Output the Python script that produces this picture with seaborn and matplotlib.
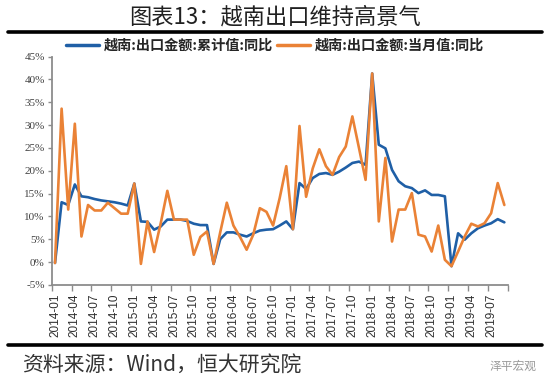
import pandas as pd
import numpy as np
import matplotlib.pyplot as plt
import seaborn as sns
from matplotlib.lines import Line2D

# --- データ (%) ---
months = pd.date_range('2014-01-01', periods=69, freq='MS').strftime('%Y-%m').tolist()

# 越南:出口金额:累计值:同比
cum_yoy = [-0.2, 13.1, 12.5, 17.0, 14.4, 14.2, 13.8, 13.5, 13.3, 13.1, 12.8, 12.4,
           17.2, 8.9, 8.8, 7.1, 7.8, 9.3, 9.3, 9.3, 9.0, 8.4, 8.1, 8.1,
           -0.4, 5.0, 6.5, 6.5, 6.0, 5.6, 6.3, 6.9, 7.1, 7.2, 8.0, 8.9,
           7.2, 17.3, 16.0, 18.4, 19.3, 19.5, 19.1, 19.8, 20.7, 21.7, 22.0, 21.3,
           41.3, 25.7, 24.9, 20.2, 17.7, 16.6, 16.2, 15.1, 15.7, 14.7, 14.7, 14.4,
           -0.9, 6.3, 4.9, 6.3, 7.4, 8.0, 8.5, 9.4, 8.7]

# 越南:出口金额:当月值:同比
mon_yoy = [-0.2, 33.6, 11.5, 30.3, 5.6, 12.5, 11.3, 11.3, 13.0, 11.8, 10.6, 10.6,
           17.2, -0.4, 8.9, 2.2, 8.5, 15.6, 9.3, 9.3, 9.3, 1.6, 5.5, 6.7,
           -0.4, 6.5, 13.0, 8.0, 5.5, 2.7, 6.0, 11.8, 11.0, 8.0, 14.0, 21.0,
           7.2, 29.8, 14.3, 20.5, 24.7, 21.0, 19.1, 23.0, 25.3, 31.9, 25.0, 18.0,
           41.3, 8.9, 22.8, 4.5, 11.5, 11.5, 15.1, 6.0, 5.6, 2.3, 8.0, 0.5,
           -0.9, 2.3, 5.6, 8.4, 7.8, 8.5, 10.7, 17.3, 12.5]

label_cum = '越南:出口金额:累计值:同比'
label_mon = '越南:出口金额:当月值:同比'
blue = '#1f5fa6'
orange = '#ea8236'

y_ticks = list(range(-5, 50, 5))

sns.set_theme(style='white')
plt.rcParams['font.family'] = ['Noto Sans CJK SC', 'DejaVu Sans']

n = len(months)
df = pd.DataFrame({
    'pos': np.tile(np.arange(n), 2),
    'value': cum_yoy + mon_yoy,
    'series': [label_cum] * n + [label_mon] * n,
})

fig = plt.figure(figsize=(5.5, 3.85), dpi=100)
ax = fig.add_axes([0.094, 0.26, 0.829, 0.593])

sns.lineplot(data=df, x='pos', y='value', hue='series', palette=[blue, orange],
             sort=False, linewidth=1.9, ax=ax, legend=False)
for ln in ax.get_lines():
    ln.set_solid_joinstyle('round')
    ln.set_solid_capstyle('round')

# 軸
ax.set_xlim(-0.5, n - 0.5)
ax.set_ylim(-5, 45)
ax.set_xlabel('')
ax.set_ylabel('')
ax.set_xticks(range(0, n - 2, 3))
ax.set_xticklabels(months[0:n - 2:3], rotation=90, fontsize=8.5,
                   family='Liberation Sans', color='#303030')
ax.set_xticks(np.arange(-0.5, n, 3), minor=True)
ax.tick_params(axis='x', which='major', length=0, pad=6)
ax.tick_params(axis='x', which='minor', length=4, width=1, color='#8c8c8c',
               direction='out', bottom=True)
ax.set_yticks(y_ticks)
ax.set_yticklabels([f'{v}%' for v in y_ticks], fontsize=8,
                   family='Liberation Serif', color='#404040')
ax.tick_params(axis='y', length=3, width=1, color='#8c8c8c', direction='out',
               left=True, pad=2)

for s in ['top', 'right']:
    ax.spines[s].set_visible(False)
for s in ['left', 'bottom']:
    ax.spines[s].set_color('#8c8c8c')
    ax.spines[s].set_linewidth(1.3)

# 凡例
handles = [Line2D([0], [0], color=blue, lw=2.5, label=label_cum),
           Line2D([0], [0], color=orange, lw=2.5, label=label_mon)]
fig.legend(handles=handles, loc='center', bbox_to_anchor=(0.5, 1 - 46 / 385),
           ncol=2, frameon=False, handlelength=2.3, handletextpad=0.35,
           columnspacing=0.3, prop={'size': 10.2, 'weight': 'bold'})

# タイトル・出所
fig.text(0.5, 1 - 17 / 385, '图表13：越南出口维持高景气', ha='center', va='center',
         fontsize=16, color='#202020')
fig.add_artist(Line2D([8 / 550, 542 / 550], [1 - 32 / 385] * 2, color='black',
                      lw=2.6, transform=fig.transFigure))
fig.add_artist(Line2D([8 / 550, 542 / 550], [1 - 345 / 385] * 2, color='black',
                      lw=2.6, transform=fig.transFigure))
fig.text(22 / 550, 1 - 366 / 385, '资料来源：Wind，恒大研究院', ha='left', va='center',
         fontsize=15, color='#333333')
fig.text(537 / 550, 1 - 366 / 385, '泽平宏观', ha='right', va='center',
         fontsize=8.5, color='#9a9a9a')

fig.savefig('out.png', dpi=100, facecolor='white')
print("Saved: out.png")
